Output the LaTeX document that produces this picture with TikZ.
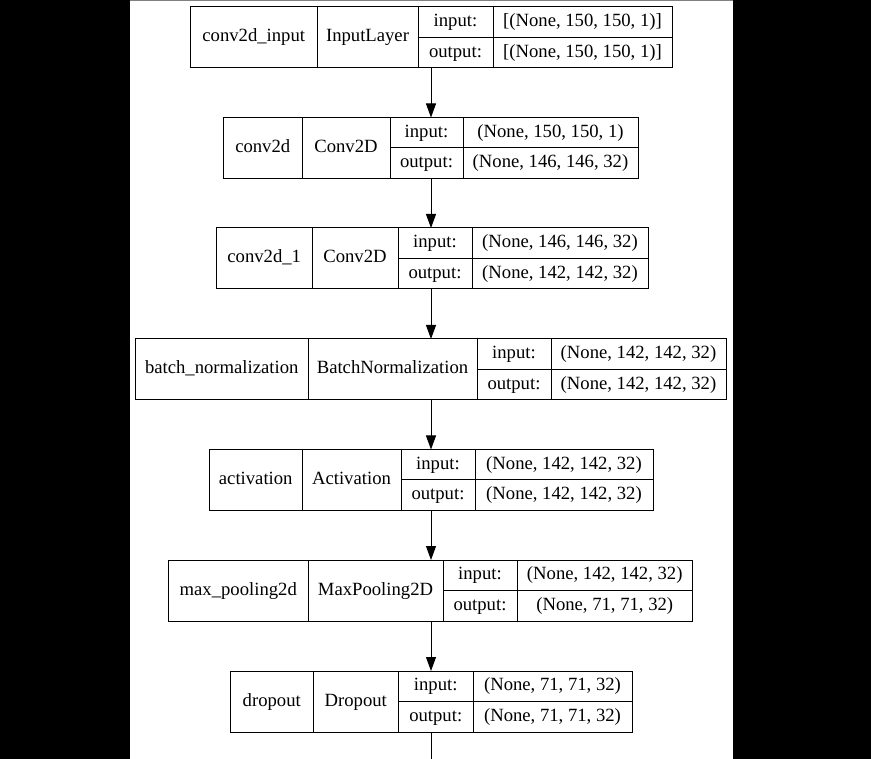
\documentclass[tikz,border=0pt]{standalone}
\usepackage{fontspec}
\setmainfont{Liberation Serif}
\usetikzlibrary{arrows.meta}

\tikzset{
  cell/.style={draw=black, line width=1pt, inner sep=0pt, outer sep=0pt,
    font=\fontsize{18.67}{22}\selectfont, text height=13pt, text depth=4pt},
  arr/.style={line width=1pt, -{Triangle[length=14pt,width=10pt]}}
}

\begin{document}
\begin{tikzpicture}[x=1pt,y=-1pt]
  \useasboundingbox (0,0) rectangle (871,759);
  % page background
  \fill[black] (0,0) rectangle (871,759);
  \fill[white] (130,0) rectangle (733,759);
  \draw[gray, line width=1.5pt] (130,0.75) -- (733,0.75);

  \coordinate (spine) at (431,0);
  \coordinate (tail) at (431,759);

  % layer boxes
  \foreach \nm/\ytop/\xa/\xb/\xc/\xd/\xe/\lab/\cls/\inp/\outp in {
    l1/7/190.5/317/418/493/672/conv2d\_input/InputLayer/{[(None, 150, 150, 1)]}/{[(None, 150, 150, 1)]},
    l2/117.5/223.5/302/390/463/638/conv2d/Conv2D/{(None, 150, 150, 1)}/{(None, 146, 146, 32)},
    l3/228/216.5/312/398/472/648/conv2d\_1/Conv2D/{(None, 146, 146, 32)}/{(None, 142, 142, 32)},
    l4/339/135.5/308/477/551/726/batch\_normalization/BatchNormalization/{(None, 142, 142, 32)}/{(None, 142, 142, 32)},
    l5/449.5/209.5/302/401/475/653/activation/Activation/{(None, 142, 142, 32)}/{(None, 142, 142, 32)},
    l6/560/168.5/308/443/517/692.5/max\_pooling2d/MaxPooling2D/{(None, 142, 142, 32)}/{(None, 71, 71, 32)},
    l7/671/230.5/313/398.5/473/632/dropout/Dropout/{(None, 71, 71, 32)}/{(None, 71, 71, 32)}}{
    \node[inner sep=0pt, outer sep=0pt, minimum width={(\xe-\xa)*1pt}, minimum height=61pt]
      (\nm) at ({(\xa+\xe)/2},{\ytop+30.5}) {};
    \node[cell, minimum width={(\xb-\xa)*1pt}, minimum height=61pt]
      (\nm-name) at ({(\xa+\xb)/2},{\ytop+30.5}) {\lab};
    \node[cell, minimum width={(\xc-\xb)*1pt}, minimum height=61pt]
      (\nm-class) at ({(\xb+\xc)/2},{\ytop+30.5}) {\cls};
    \node[cell, minimum width={(\xd-\xc)*1pt}, minimum height=30.5pt]
      (\nm-inlab) at ({(\xc+\xd)/2},{\ytop+15.25}) {input:};
    \node[cell, minimum width={(\xd-\xc)*1pt}, minimum height=30.5pt]
      (\nm-outlab) at ({(\xc+\xd)/2},{\ytop+45.75}) {output:};
    \node[cell, minimum width={(\xe-\xd)*1pt}, minimum height=30.5pt]
      (\nm-in) at ({(\xd+\xe)/2},{\ytop+15.25}) {\inp};
    \node[cell, minimum width={(\xe-\xd)*1pt}, minimum height=30.5pt]
      (\nm-out) at ({(\xd+\xe)/2},{\ytop+45.75}) {\outp};
  }

  % connectors
  \foreach \a/\b in {l1/l2,l2/l3,l3/l4,l4/l5,l5/l6,l6/l7}
    \draw[arr] (\a.south -| spine) -- (\b.north -| spine);
  \draw[line width=1pt] (l7.south -| spine) -- (tail);
\end{tikzpicture}
\end{document}
